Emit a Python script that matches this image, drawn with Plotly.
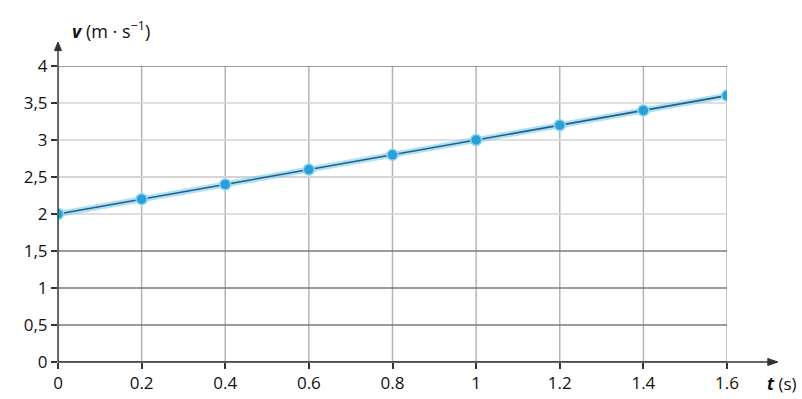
import plotly.graph_objects as go

t_values = [0, 0.2, 0.4, 0.6, 0.8, 1.0, 1.2, 1.4, 1.6]
v_values = [2.0, 2.2, 2.4, 2.6, 2.8, 3.0, 3.2, 3.4, 3.6]
x_ticks = [0, 0.2, 0.4, 0.6, 0.8, 1.0, 1.2, 1.4, 1.6]
x_tick_labels = ["0", "0.2", "0.4", "0.6", "0.8", "1", "1.2", "1.4", "1.6"]
y_ticks = [0, 0.5, 1, 1.5, 2, 2.5, 3, 3.5, 4]
y_tick_labels = ["0", "0,5", "1", "1,5", "2", "2,5", "3", "3,5", "4"]
dark_grid_y = [0, 0.5, 1, 1.5, 4]
light_grid_y = [2, 2.5, 3, 3.5]

FONT = "Open Sans"
AX = "#333333"
fig = go.Figure()

# glow under line
fig.add_trace(go.Scatter(x=t_values, y=v_values, mode="lines",
                         line=dict(color="rgba(110,205,245,0.6)", width=6),
                         hoverinfo="skip", showlegend=False))
fig.add_trace(go.Scatter(x=t_values, y=v_values, mode="lines+markers",
                         line=dict(color="#2d5a78", width=1.6),
                         marker=dict(size=11, color="#2a9fd8",
                                     line=dict(color="#8fd6f5", width=1.5)),
                         showlegend=False))

shapes = []
for xv in x_ticks:
    shapes.append(dict(type="line", xref="x", yref="y", x0=xv, x1=xv, y0=0, y1=4,
                       line=dict(color="#b4b4b4", width=1.5), layer="below"))
for yv in light_grid_y:
    shapes.append(dict(type="line", xref="x", yref="y", x0=0, x1=1.6, y0=yv, y1=yv,
                       line=dict(color="#d4d4d4", width=2 if yv == 2.5 else 1.5), layer="below"))
for yv in dark_grid_y:
    shapes.append(dict(type="line", xref="x", yref="y", x0=0, x1=1.6, y0=yv, y1=yv,
                       line=dict(color="#7a7a7a", width=1.3), layer="below"))

# axes with arrowheads (paper coordinates so they may extend past the plot)
shapes += [
    dict(type="line", xref="paper", yref="paper", x0=0, x1=0, y0=0, y1=1.06,
         line=dict(color=AX, width=1.4)),
    dict(type="path", xref="paper", yref="paper",
         path="M -0.0052,1.052 L 0,1.081 L 0.0052,1.052 Z",
         fillcolor=AX, line=dict(color=AX, width=1)),
    dict(type="line", xref="paper", yref="paper", x0=0, x1=1.065, y0=0, y1=0,
         line=dict(color=AX, width=1.4)),
    dict(type="path", xref="paper", yref="paper",
         path="M 1.061,-0.0118 L 1.076,0 L 1.061,0.0118 Z",
         fillcolor=AX, line=dict(color=AX, width=1)),
]

annotations = [
    dict(x=0.018, y=1.12, xref="paper", yref="paper", xanchor="left", yanchor="middle",
         text="<b><i>v</i></b> (m · s<sup>−1</sup>)", showarrow=False,
         font=dict(family=FONT, size=18, color="#111")),
    dict(x=1.107, y=-0.072, xref="paper", yref="paper", xanchor="right", yanchor="middle",
         text="<b><i>t</i></b> (s)", showarrow=False,
         font=dict(family=FONT, size=17, color="#111")),
]

fig.update_layout(
    width=802, height=399,
    margin=dict(l=58, r=75, t=66, b=37, autoexpand=False),
    paper_bgcolor="white", plot_bgcolor="white",
    shapes=shapes, annotations=annotations,
    font=dict(family=FONT, size=17, color="#111"),
    xaxis=dict(range=[0, 1.6], tickvals=x_ticks, ticktext=x_tick_labels,
               showgrid=False, zeroline=False, showline=False, automargin=False,
               ticks="outside", ticklen=6, tickwidth=1.5, tickcolor=AX),
    yaxis=dict(range=[0, 4], tickvals=y_ticks, ticktext=y_tick_labels,
               showgrid=False, zeroline=False, showline=False, automargin=False,
               ticks="outside", ticklen=6, tickwidth=1.5, tickcolor=AX),
)
fig.write_html("out.html")
